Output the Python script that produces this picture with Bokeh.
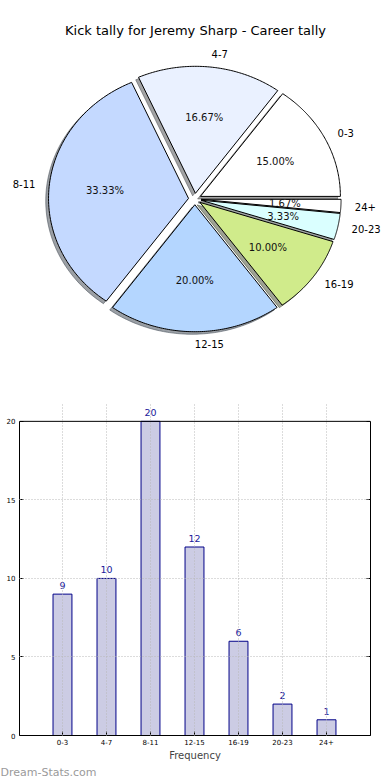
import numpy as np
from bokeh.plotting import figure
from bokeh.models import (Range1d, ColumnDataSource, Label, LabelSet, FixedTicker,
                          LinearAxis, Span, Title)
from bokeh.core.properties import value
from bokeh.embed import file_html
from bokeh.resources import INLINE

# ---------------- data ----------------
categories = ["0-3", "4-7", "8-11", "12-15", "16-19", "20-23", "24+"]
counts = [9, 10, 20, 12, 6, 2, 1]
pie_colors = ["#FFFFFF", "#EAF1FF", "#C4D9FF", "#B4D6FF", "#D0EB8B", "#DAFFFF", "#FFFFFF"]
title_text = "Kick tally for Jeremy Sharp - Career tally"
x_label = "Frequency"
y_ticks = [0, 5, 10, 15, 20]
watermark = "Dream-Stats.com"

FONT = "DejaVu Sans"

# ---------------- pie ----------------
explode = 0.045
label_dist = 1.1
pct_dist = 0.6
shadow_off = 0.02

vals = np.array(counts, dtype=float)
fracs = vals / vals.sum()
ends = np.cumsum(fracs) * 2 * np.pi
starts = ends - fracs * 2 * np.pi
mids = (starts + ends) / 2


def darker(hexcol, f=0.3):
    h = hexcol.lstrip("#")
    r, g, b = (int(h[i:i + 2], 16) for i in (0, 2, 4))
    return "#%02x%02x%02x" % (int(r * f), int(g * f), int(b * f))


xs, ys, sxs, sys_ = [], [], [], []
for a0, a1, am in zip(starts, ends, mids):
    dx, dy = explode * np.cos(am), explode * np.sin(am)
    t = np.linspace(a0, a1, 90)
    px = np.concatenate([[dx], dx + np.cos(t), [dx]])
    py = np.concatenate([[dy], dy + np.sin(t), [dy]])
    xs.append(list(px)); ys.append(list(py))
    sxs.append(list(px - shadow_off)); sys_.append(list(py - shadow_off))

PIE_H = 374
pie = figure(width=390, height=PIE_H, output_backend="svg", toolbar_location=None,
             x_range=Range1d(-1.388, 1.398),
             y_range=Range1d(-(PIE_H - 198.5) / 127.0, 1.563),
             x_axis_type=None, y_axis_type=None, min_border=0)
pie.outline_line_color = None
pie.xgrid.visible = False
pie.ygrid.visible = False

shadow_src = ColumnDataSource(dict(xs=sxs, ys=sys_, c=[darker(c) for c in pie_colors]))
pie.patches("xs", "ys", source=shadow_src, fill_color="c", fill_alpha=0.5,
            line_color="c", line_alpha=0.5, line_width=1)
wedge_src = ColumnDataSource(dict(xs=xs, ys=ys, c=pie_colors, cat=categories))
pie.patches("xs", "ys", source=wedge_src, fill_color="c", line_color="black", line_width=1)

# outer category labels
lx = (label_dist + explode) * np.cos(mids)
ly = (label_dist + explode) * np.sin(mids)
right_side = np.cos(mids) > -1e-6
for mask, align in ((right_side, "left"), (~right_side, "right")):
    src = ColumnDataSource(dict(x=lx[mask], y=ly[mask],
                                t=[c for c, m in zip(categories, mask) if m]))
    pie.text("x", "y", text="t", source=src, text_align=align, text_baseline="middle",
             text_font=value(FONT), text_font_size="10px", text_color="black")

# percentage labels
px_ = (pct_dist + explode) * np.cos(mids)
py_ = (pct_dist + explode) * np.sin(mids)
pct_src = ColumnDataSource(dict(x=px_, y=py_, t=["%.2f%%" % (100 * f) for f in fracs]))
pie.text("x", "y", text="t", source=pct_src, text_align="center", text_baseline="middle",
         text_font=value(FONT), text_font_size="10px", text_color="#111111")

pie.add_layout(Label(x=0.005, y=1.327, text=title_text, text_align="center",
                     text_baseline="middle", text_font_size="13px", text_font=FONT,
                     text_color="black"))

# ---------------- bar ----------------
xpos = list(range(len(categories)))
bar = figure(width=390, height=404, output_backend="svg", toolbar_location=None,
             x_range=Range1d(-0.977, 7.0), y_range=Range1d(0, 21.2),
             min_border_left=19, min_border_right=20, min_border_top=28, min_border_bottom=38)
bar_src = ColumnDataSource(dict(x=xpos, top=counts, lab=[str(c) for c in counts]))
bar.vbar(x="x", top="top", width=0.43, source=bar_src, fill_color="#CCCCE4",
         line_color="#000088", line_width=1)

bar.add_layout(LinearAxis(ticker=FixedTicker(ticks=y_ticks), bounds=(0, 20),
                          major_label_text_color=None, major_label_text_font_size="1px",
                          major_tick_in=4, major_tick_out=0, minor_tick_line_color=None,
                          axis_line_color="black"), "right")

bar.xaxis.ticker = FixedTicker(ticks=xpos)
bar.xaxis.major_label_overrides = {i: c for i, c in enumerate(categories)}
bar.yaxis.ticker = FixedTicker(ticks=y_ticks)
bar.xaxis.axis_label = x_label
bar.xaxis.axis_label_text_font_style = "normal"
bar.xaxis.axis_label_text_font_size = "10px"
bar.xaxis.axis_label_text_font = FONT
bar.xaxis.axis_label_standoff = 2
for ax in (bar.xaxis[0], bar.yaxis[0]):
    ax.major_label_text_font_size = "7px"
    ax.major_label_text_font = FONT
    ax.major_label_text_color = "black"
    ax.major_tick_in = 4
    ax.major_tick_out = 0
    ax.minor_tick_line_color = None
    ax.axis_line_color = "black"
    ax.major_tick_line_color = "black"
bar.yaxis[0].bounds = (0, 20)
bar.xaxis.major_label_standoff = 3
bar.yaxis[0].major_label_standoff = 4
bar.outline_line_color = None
bar.add_layout(Span(location=20, dimension="width", line_color="black", line_width=1))

for g in (bar.xgrid, bar.ygrid):
    g.grid_line_color = "#b8b8b8"
    g.grid_line_dash = "1 2"
    g.grid_line_width = 1
    g.level = "overlay"
bar.xgrid.ticker = FixedTicker(ticks=xpos)
bar.xgrid.bounds = (0, 20)
bar.ygrid.ticker = FixedTicker(ticks=[5, 10, 15])

bar.add_layout(LabelSet(x="x", y="top", text="lab", source=bar_src, text_align="center",
                        text_baseline="bottom", y_offset=5,
                        text_font_size=value("9.5px"), text_font=value(FONT),
                        text_color=value("#1a1a9a")))
bar.add_layout(Title(text=watermark, align="left", offset=-19, standoff=0,
                     text_font_size="11px", text_font=FONT, text_font_style="normal",
                     text_color="#9a9a9a"), "below")

open("out.html", "w").write(file_html([pie, bar], INLINE))
